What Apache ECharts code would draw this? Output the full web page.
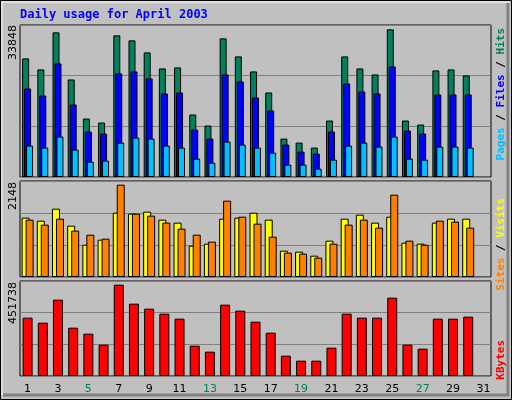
<!DOCTYPE html>
<html><head><meta charset="utf-8">
<script src="https://cdn.jsdelivr.net/npm/echarts@6/dist/echarts.min.js"></script>
<style>html,body{margin:0;padding:0;background:#c0c0c0}#c{width:512px;height:400px}</style>
</head><body><div id="c"></div>
<script>
const days = ['1','2','3','4','5','6','7','8','9','10','11','12','13','14','15','16','17','18','19','20','21','22','23','24','25','26','27','28','29','30','31'];
const weekend = ['5','6','12','13','19','20','26','27'];
const hits = [26409,23954,32212,21722,13018,12126,31542,30426,27748,24177,24400,13911,11456,30872,26855,23508,18821,8555,7662,6546,12572,26855,24177,22838,32881,12572,11680,23731,23954,22615];
const files = [19713,18151,25293,16143,10117,9671,23061,23507,21945,18598,18821,10563,8555,22838,21276,17705,14804,7216,5654,5207,10117,20829,19044,18598,24623,10340,9671,18374,18374,18374];
const pages = [6993,6546,9001,6100,3422,3645,7662,8778,8555,6993,6546,4091,3199,7885,7216,6546,5430,2752,2752,1860,3868,6993,7662,6769,9001,4091,3868,6769,6769,6546];
const visits = [1328,1260,1529,1149,723,835,1439,1417,1462,1283,1216,701,746,1305,1328,1439,1283,589,567,477,813,1305,1395,1216,1350,768,746,1216,1305,1305];
const sites = [1283,1171,1305,1037,947,858,2066,1417,1372,1216,1081,947,791,1708,1350,1193,902,544,522,433,746,1171,1283,1104,1842,813,723,1260,1238,1104];
const kbytes = [277375,253600,362965,229825,201295,148990,434290,343945,320170,296395,272620,144235,115705,339190,310660,258355,206050,96685,72910,72910,134725,296395,277375,277375,372475,148990,129970,272620,272620,282130];
const maxLabels = [33848, 2148, 451738];

const chart = echarts.init(document.getElementById('c'));
const L = 20, W = 471;
const grids = [{top:25,height:152},{top:181,height:96},{top:281,height:95}].map(g=>({left:L,width:W,top:g.top,height:g.height,show:true,backgroundColor:'#c0c0c0',borderColor:'#000',borderWidth:1}));
const xAxes = [0,1,2].map(i=>({type:'category',gridIndex:i,data:days,axisLine:{show:false},axisTick:{show:false},
  axisLabel:{show:i===2,fontFamily:'DejaVu Sans',fontSize:11,margin:8,color:(v)=>weekend.includes(v)?'#00805c':'#000'}}));
const yAxes = maxLabels.map((m,i)=>({type:'value',gridIndex:i,min:0,max:m,interval:m/3,axisLabel:{show:false},axisLine:{show:false},axisTick:{show:false},
  splitLine:{lineStyle:{color:'#808080',width:1}}}));
const bs = (c)=>({color:c,borderColor:'#000',borderWidth:1});
const series = [
 {type:'bar',xAxisIndex:0,yAxisIndex:0,data:hits,barWidth:7,barGap:'-72%',itemStyle:bs('#00805c'),animation:false},
 {type:'bar',xAxisIndex:0,yAxisIndex:0,data:files,barWidth:7,barGap:'-72%',itemStyle:bs('#0000ff'),animation:false},
 {type:'bar',xAxisIndex:0,yAxisIndex:0,data:pages,barWidth:7,barGap:'-72%',itemStyle:bs('#00c0ff'),animation:false},
 {type:'bar',xAxisIndex:1,yAxisIndex:1,data:visits,barWidth:8,barGap:'-50%',itemStyle:bs('#ffff00'),animation:false},
 {type:'bar',xAxisIndex:1,yAxisIndex:1,data:sites,barWidth:8,barGap:'-50%',itemStyle:bs('#ff8000'),animation:false},
 {type:'bar',xAxisIndex:2,yAxisIndex:2,data:kbytes,barWidth:10,itemStyle:bs('#ff0000'),animation:false}
];
const ylab = (txt,y)=>({type:'text',x:13,y:y,rotation:Math.PI/2,style:{text:txt,fill:'#000',font:'11px DejaVu Sans',align:'right',verticalAlign:'middle'}});
const rlab = (rich,parts,y)=>({type:'text',x:501,y:y,rotation:Math.PI/2,style:{text:parts,rich:rich,font:'bold 11px DejaVu Sans Mono',align:'right',verticalAlign:'middle'}});
const rich = {g:{fill:'#00805c',font:'bold 11px DejaVu Sans Mono'},b:{fill:'#0000ff',font:'bold 11px DejaVu Sans Mono'},c:{fill:'#00c0ff',font:'bold 11px DejaVu Sans Mono'},
  y:{fill:'#ffff00',font:'bold 11px DejaVu Sans Mono'},o:{fill:'#ff8000',font:'bold 11px DejaVu Sans Mono'},r:{fill:'#ff0000',font:'bold 11px DejaVu Sans Mono'},k:{fill:'#000',font:'bold 11px DejaVu Sans Mono'}};
chart.setOption({
 animation:false,backgroundColor:'#c0c0c0',
 grid:grids,xAxis:xAxes,yAxis:yAxes,series:series,
 graphic:[
  {type:'rect',shape:{x:0.5,y:0.5,width:511,height:399},style:{fill:null,stroke:'#000',lineWidth:1},z:100},
  {type:'rect',shape:{x:2,y:2,width:507,height:393},style:{fill:null,stroke:'#ffffff',lineWidth:1},z:100},
  {type:'polyline',shape:{points:[[3,395],[508,395],[508,3]]},style:{stroke:'#808080',lineWidth:3,fill:null},z:100},
  {type:'text',x:20,y:15,style:{text:'Daily usage for April 2003',fill:'#0000ff',font:'bold 12px DejaVu Sans Mono',verticalAlign:'middle'}},
  ylab(String(maxLabels[0]),25), ylab(String(maxLabels[1]),182), ylab(String(maxLabels[2]),282),
  rlab(rich,'{c|Pages} {k|/} {b|Files} {k|/} {g|Hits}',28),
  rlab(rich,'{o|Sites} {k|/} {y|Visits}',198),
  rlab(rich,'{r|KBytes}',340)
 ]
});
</script></body></html>
